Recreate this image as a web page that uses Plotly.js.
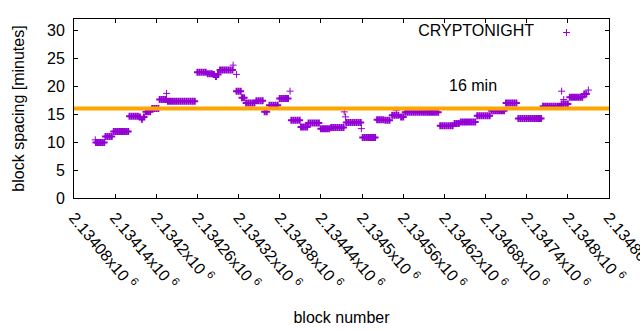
<!DOCTYPE html>
<html>
<head>
<meta charset="utf-8">
<script src="https://cdn.plot.ly/plotly-3.0.1.min.js"></script>
<style>html,body{margin:0;padding:0;background:#fff;}#chart{width:640px;height:330px;}</style>
</head>
<body>
<div id="chart"></div>
<script>
// Block spacing (minutes) per sampled block – dense runs
const blockNumber = [
  2134112,2134115,2134118,2134121,2134124,
  2134126,2134129,2134132,2134135,
  2134138,2134141,2134144,2134147,2134150,2134153,2134156,2134159,
  2134161,2134164,2134167,2134170,2134173,
  2134176,2134179,2134182,
  2134185,2134188,2134191,
  2134194,2134197,2134200,2134203,
  2134205,2134208,2134211,2134214,
  2134217,2134220,2134223,2134226,2134229,2134232,2134235,2134238,2134241,2134244,2134247,2134250,2134253,2134256,
  2134260,2134263,2134266,2134269,2134272,
  2134275,2134278,2134281,
  2134284,2134287,2134290,
  2134293,2134296,2134299,2134302,2134305,2134308,2134311,
  2134317,2134320,2134323,
  2134325,2134328,
  2134331,2134334,2134337,2134340,2134343,
  2134346,2134349,2134352,2134355,
  2134358,2134361,
  2134365,2134368,2134371,2134374,2134377,
  2134380,2134383,2134386,2134389,2134392,
  2134397,2134400,2134403,2134406,2134409,
  2134411,2134414,2134417,2134420,
  2134422,2134425,2134428,2134431,2134434,2134437,
  2134440,2134443,2134446,2134449,2134452,
  2134455,2134458,2134461,2134464,2134467,2134470,2134473,
  2134477,2134480,2134483,2134486,2134489,2134492,2134495,2134498,
  2134501,2134504,2134507,2134510,2134513,2134516,2134519,
  2134522,2134525,2134528,2134531,
  2134534,2134537,2134540,
  2134544,2134547,2134550,2134553,
  2134557,2134560,
  2134563,2134566,2134569,2134572,2134575,2134578,2134581,2134584,2134587,2134590,2134593,2134596,2134599,2134602,2134605,2134608,2134611,
  2134614,2134617,2134620,2134623,2134626,2134629,2134632,
  2134635,2134638,2134641,
  2134644,2134647,2134650,2134653,2134656,2134659,2134662,2134665,
  2134668,2134671,2134674,2134677,2134680,2134683,2134686,
  2134689,2134692,2134695,2134698,2134701,2134704,2134707,
  2134710,2134713,2134716,2134719,2134722,2134725,
  2134728,2134731,2134734,2134737,2134740,2134743,2134746,2134749,2134752,2134755,2134758,2134761,
  2134764,2134767,2134770,2134773,2134776,2134779,2134782,2134785,2134788,
  2134791,2134794,2134797,2134800,
  2134803,2134806,2134809,2134812,2134815,2134818,2134821,
  2134824,2134827
];
const blockSpacing = [
  9.9,9.9,9.9,9.9,9.9,
  11.0,11.0,11.0,11.0,
  11.9,11.9,11.9,11.9,11.9,11.9,11.9,11.9,
  14.6,14.6,14.6,14.6,14.6,
  14.5,14.1,14.5,
  15.4,15.4,15.4,
  16.0,16.0,16.0,16.0,
  17.6,17.6,17.6,17.6,
  17.3,17.3,17.3,17.3,17.3,17.3,17.3,17.3,17.3,17.3,17.3,17.3,17.3,17.3,
  22.5,22.5,22.5,22.5,22.5,
  22.2,22.2,22.2,
  22.1,21.7,22.1,
  22.9,22.9,22.9,22.9,22.9,22.9,22.9,
  19.1,19.1,19.1,
  17.9,17.9,
  17.0,17.0,17.0,17.0,17.0,
  17.4,17.4,17.4,17.4,
  15.4,15.4,
  16.6,16.6,16.6,16.6,16.6,
  17.8,17.8,17.8,17.8,17.8,
  13.9,13.9,13.9,13.9,13.9,
  12.7,12.7,12.7,12.7,
  13.4,13.4,13.4,13.4,13.4,13.4,
  12.4,12.4,12.4,12.4,12.4,
  12.6,12.6,12.6,12.6,12.6,12.6,12.6,
  13.5,13.5,13.5,13.5,13.5,13.5,13.5,13.5,
  10.8,10.8,10.8,10.8,10.8,10.8,10.8,
  14.0,14.0,14.0,14.0,
  13.9,13.9,13.9,
  14.8,14.8,14.8,14.8,
  14.5,14.5,
  15.35,15.35,15.35,15.35,15.35,15.35,15.35,15.35,15.35,15.35,15.35,15.35,15.35,15.35,15.35,15.35,15.35,
  12.9,12.9,12.9,12.9,12.9,12.9,12.9,
  13.3,13.3,13.3,
  13.6,13.6,13.6,13.6,13.6,13.6,13.6,13.6,
  14.7,14.7,14.7,14.7,14.7,14.7,14.7,
  15.6,15.6,15.6,15.6,15.6,15.6,15.6,
  17.0,17.0,17.0,17.0,17.0,17.0,
  14.2,14.2,14.2,14.2,14.2,14.2,14.2,14.2,14.2,14.2,14.2,14.2,
  16.4,16.4,16.4,16.4,16.4,16.4,16.4,16.4,16.4,
  16.8,16.8,16.8,16.8,
  18.0,18.0,18.0,18.0,18.0,18.0,18.0,
  18.6,18.6
];
// Isolated outlier blocks
const outlierBlock   = [2134111,2134215,2134312,2134317,2134395,2134474,2134476,2134499,2134550,2134791,2134794,2134830];
const outlierSpacing = [10.4,   18.7,   23.75,  22.1,   19.1,   15.4,   14.5,   12.4,   15.7,   19.1,   17.6,   19.3];

const targetSpacing = 16; // minutes
const targetLabel = '16 min';
const seriesName = 'CRYPTONIGHT';

const tickBlocks = [2134080,2134140,2134200,2134260,2134320,2134380,2134440,2134500,2134560,2134620,2134680,2134740,2134800,2134860];
const tickLabels = ['2.13408','2.13414','2.1342','2.13426','2.13432','2.13438','2.13444','2.1345','2.13456','2.13462','2.13468','2.13474','2.1348','2.13486'];

const purple = '#9400D3';
const FONT = 'Liberation Sans, Arial, sans-serif';

const traces = [
  {
    type: 'scatter', mode: 'markers',
    x: blockNumber, y: blockSpacing,
    showlegend: false, hoverinfo: 'skip',
    marker: {symbol: 'cross-thin-open', size: 5, color: purple, line: {color: purple, width: 2}}
  },
  {
    type: 'scatter', mode: 'markers',
    x: outlierBlock, y: outlierSpacing,
    name: ' ', showlegend: true,
    marker: {symbol: 'cross-thin-open', size: 5, color: purple, line: {color: purple, width: 1}}
  }
];

const layout = {
  width: 640, height: 330,
  margin: {l: 74, r: 31, t: 19, b: 132},
  paper_bgcolor: '#fff', plot_bgcolor: '#fff',
  font: {family: FONT, size: 16, color: '#000'},
  showlegend: true,
  legend: {
    x: 0.976, y: 1.019, xanchor: 'right', yanchor: 'top',
    bgcolor: 'rgba(0,0,0,0)', borderwidth: 0,
    title: {text: seriesName + '&nbsp;', side: 'left', font: {family: FONT, size: 16, color: '#000'}},
    font: {family: FONT, size: 16}
  },
  xaxis: {
    range: [2134080, 2134860.05],
    tickmode: 'array', tickvals: tickBlocks,
    ticktext: tickLabels.map(t => t + 'x10 <sup>6</sup>'),
    tickangle: 50, ticks: 'inside', ticklen: 4, tickcolor: '#000',
    ticklabelstandoff: 3, ticklabeloverflow: 'allow',
    showline: true, linecolor: '#000', linewidth: 1, mirror: 'ticks',
    showgrid: false, zeroline: false,
    tickfont: {family: FONT, size: 16, color: '#000'},
    title: {text: 'block number', font: {family: FONT, size: 16}, standoff: 20}
  },
  yaxis: {
    range: [0, 32], tick0: 0, dtick: 5,
    ticks: 'inside', ticklen: 4, tickcolor: '#000',
    ticklabelstandoff: 5,
    showline: true, linecolor: '#000', linewidth: 1, mirror: 'ticks',
    showgrid: false, zeroline: false,
    tickfont: {family: FONT, size: 16, color: '#000'},
    title: {text: 'block spacing [minutes]', font: {family: FONT, size: 16}, standoff: 18}
  },
  shapes: [{
    type: 'line', xref: 'paper', x0: 0, x1: 1, yref: 'y', y0: targetSpacing, y1: targetSpacing,
    line: {color: '#FFA500', width: 4}, layer: 'above'
  }],
  annotations: [{
    xref: 'paper', yref: 'paper', x: 0.746, y: 0.631, xanchor: 'center', yanchor: 'middle',
    text: targetLabel, showarrow: false, font: {family: FONT, size: 16, color: '#000'}
  }]
};

Plotly.newPlot('chart', traces, layout, {staticPlot: true, displayModeBar: false});
</script>
</body>
</html>
